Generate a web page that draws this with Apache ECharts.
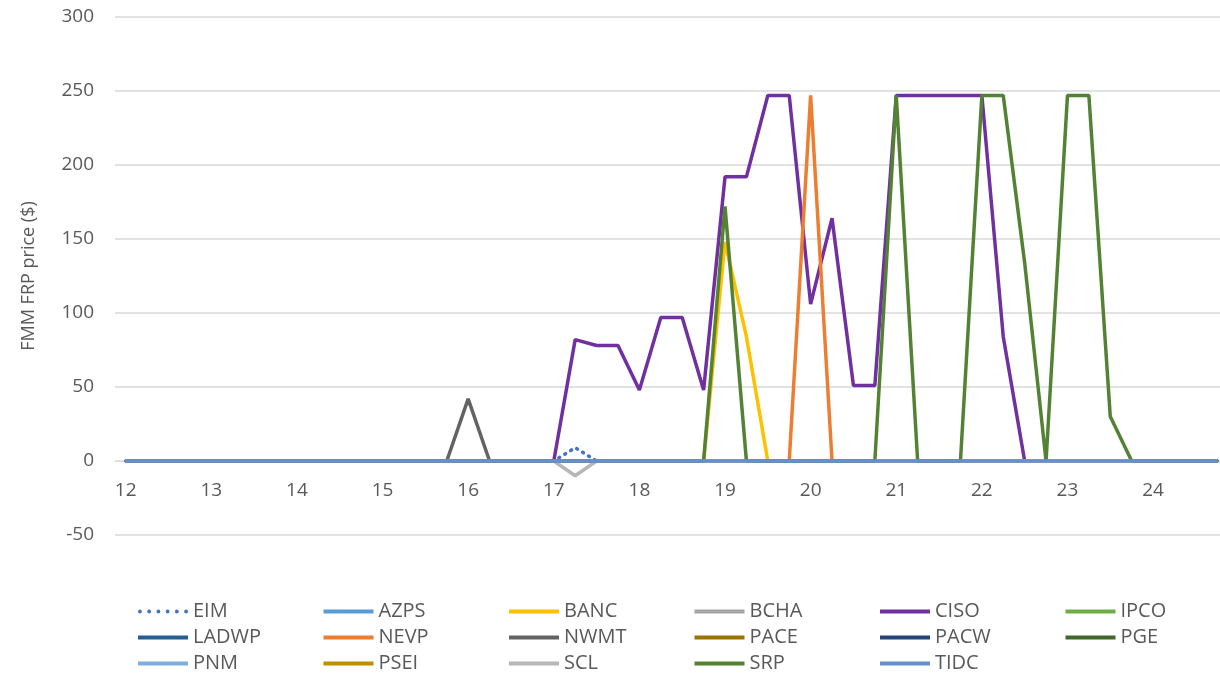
<!DOCTYPE html>
<html>
<head>
<meta charset="utf-8">
<script src="https://cdn.jsdelivr.net/npm/echarts@6/dist/echarts.min.js"></script>
<style>
  html, body { margin: 0; padding: 0; background: #fff; }
  #main { width: 1220px; height: 673px; }
</style>
</head>
<body>
<div id="main"></div>
<script>
// quarter-hour steps, 12:00 .. 24:45
const hours = [
  12, 12.25, 12.5, 12.75, 13, 13.25, 13.5, 13.75, 14, 14.25, 14.5, 14.75,
  15, 15.25, 15.5, 15.75, 16, 16.25, 16.5, 16.75, 17, 17.25, 17.5, 17.75,
  18, 18.25, 18.5, 18.75, 19, 19.25, 19.5, 19.75, 20, 20.25, 20.5, 20.75,
  21, 21.25, 21.5, 21.75, 22, 22.25, 22.5, 22.75, 23, 23.25, 23.5, 23.75,
  24, 24.25, 24.5, 24.75
];

const flat = [
  0,0,0,0, 0,0,0,0, 0,0,0,0, 0,0,0,0, 0,0,0,0, 0,0,0,0,
  0,0,0,0, 0,0,0,0, 0,0,0,0, 0,0,0,0, 0,0,0,0, 0,0,0,0, 0,0,0,0
];
const eim = [
  0,0,0,0, 0,0,0,0, 0,0,0,0, 0,0,0,0, 0,0,0,0, 0,9,0,0,
  0,0,0,0, 0,0,0,0, 0,0,0,0, 0,0,0,0, 0,0,0,0, 0,0,0,0, 0,0,0,0
];
const banc = [
  0,0,0,0, 0,0,0,0, 0,0,0,0, 0,0,0,0, 0,0,0,0, 0,0,0,0,
  0,0,0,0, 148,84,0,0, 0,0,0,0, 0,0,0,0, 0,0,0,0, 0,0,0,0, 0,0,0,0
];
const ciso = [
  0,0,0,0, 0,0,0,0, 0,0,0,0, 0,0,0,0, 0,0,0,0, 0,82,78,78,
  48,97,97,48, 192,192,247,247, 106,164,51,51, 247,247,247,247, 247,84,0,0, 0,0,0,0, 0,0,0,0
];
const nevp = [
  0,0,0,0, 0,0,0,0, 0,0,0,0, 0,0,0,0, 0,0,0,0, 0,0,0,0,
  0,0,0,0, 0,0,0,0, 247,0,0,0, 0,0,0,0, 0,0,0,0, 0,0,0,0, 0,0,0,0
];
const nwmt = [
  0,0,0,0, 0,0,0,0, 0,0,0,0, 0,0,0,0, 42,0,0,0, 0,0,0,0,
  0,0,0,0, 0,0,0,0, 0,0,0,0, 0,0,0,0, 0,0,0,0, 0,0,0,0, 0,0,0,0
];
const scl = [
  0,0,0,0, 0,0,0,0, 0,0,0,0, 0,0,0,0, 0,0,0,0, 0,-10,0,0,
  0,0,0,0, 0,0,0,0, 0,0,0,0, 0,0,0,0, 0,0,0,0, 0,0,0,0, 0,0,0,0
];
const srp = [
  0,0,0,0, 0,0,0,0, 0,0,0,0, 0,0,0,0, 0,0,0,0, 0,0,0,0,
  0,0,0,0, 172,0,0,0, 0,0,0,0, 247,0,0,0, 247,247,134,0, 247,247,30,0, 0,0,0,0
];

const areas = ['EIM', 'AZPS', 'BANC', 'BCHA', 'CISO', 'IPCO', 'LADWP', 'NEVP', 'NWMT',
  'PACE', 'PACW', 'PGE', 'PNM', 'PSEI', 'SCL', 'SRP', 'TIDC'];
const areaData = [eim, flat, banc, flat, ciso, flat, flat, nevp, nwmt,
  flat, flat, flat, flat, flat, scl, srp, flat];
const areaColors = ['#4472C4', '#5B9BD5', '#FFC000', '#A5A5A5', '#7030A0', '#70AD47',
  '#255E91', '#ED7D31', '#636363', '#997300', '#264478', '#43682B', '#7CAFDD',
  '#BF8F00', '#B7B7B7', '#548235', '#698ED0'];

const font = '"Open Sans", "Liberation Sans", sans-serif';
const txt = '#595959';

// six round dots for the dotted EIM legend key
let dots = '';
for (let k = 0; k < 6; k++) {
  const cx = 2 + k * 9.6;
  dots += 'M' + (cx - 2) + ',2a2,2 0 1,0 4,0a2,2 0 1,0 -4,0z';
}

const chart = echarts.init(document.getElementById('main'));

const option = {
  animation: false,
  color: areaColors,
  // the original plot runs a little past the right edge of the picture
  grid: { left: 115, width: 1113, top: 17, bottom: 138, outerBoundsMode: 'none' },
  legend: {
    data: areas.map(n => ({ name: n, icon: n === 'EIM' ? 'path://' + dots : 'rect' })),
    left: 138,
    top: 601.5,
    padding: 0,
    width: 1120,
    itemWidth: 50,
    itemHeight: 4,
    itemGap: 6,
    textStyle: { color: txt, fontFamily: font, fontSize: 20, width: 124.5, lineHeight: 18 }
  },
  xAxis: {
    type: 'category',
    data: hours,
    boundaryGap: true,
    offset: -74,
    axisLine: { onZero: false, lineStyle: { color: '#D9D9D9' } },
    axisTick: { show: false },
    axisLabel: {
      interval: 3,
      margin: 20,
      color: txt,
      fontFamily: font,
      fontSize: 19,
      formatter: v => String(Math.round(Number(v)))
    },
    splitLine: { show: false }
  },
  yAxis: {
    type: 'value',
    min: -50,
    max: 300,
    interval: 50,
    name: 'FMM FRP price ($)',
    nameLocation: 'middle',
    nameGap: 77,
    nameTextStyle: { color: txt, fontFamily: font, fontSize: 18 },
    axisLine: { show: false },
    axisTick: { show: false },
    axisLabel: { margin: 21, color: txt, fontFamily: font, fontSize: 19 },
    splitLine: { lineStyle: { color: '#D9D9D9', width: 1.5 } }
  },
  series: areas.map((name, i) => ({
    name: name,
    type: 'line',
    data: areaData[i],
    symbol: 'none',
    lineStyle: {
      width: 3.5,
      type: name === 'EIM' ? [1, 6] : 'solid',
      cap: name === 'EIM' ? 'round' : 'butt',
      color: areaColors[i]
    },
    itemStyle: { color: areaColors[i] }
  }))
};

chart.setOption(option);
</script>
</body>
</html>
